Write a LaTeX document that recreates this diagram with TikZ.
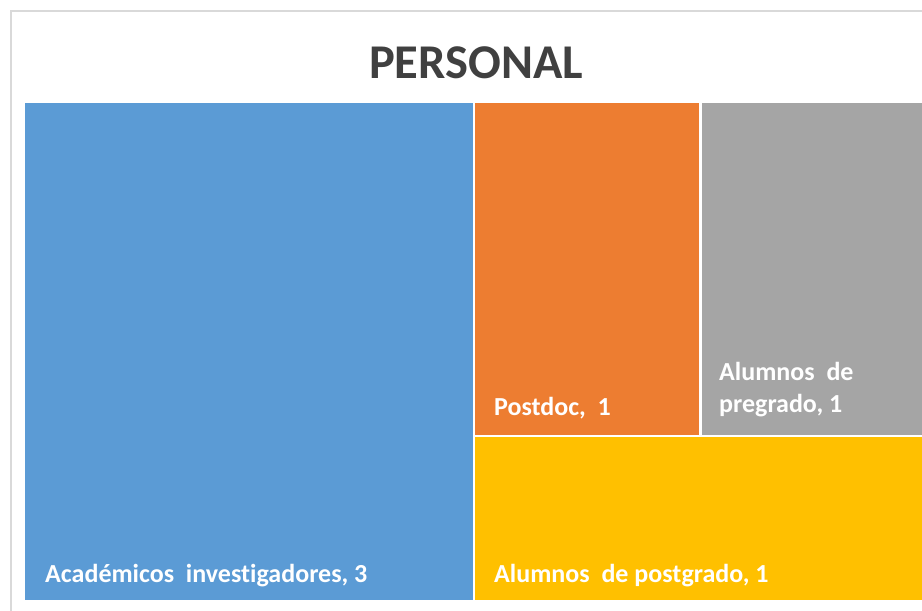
\documentclass[tikz,border=0pt]{standalone}
\usepackage{fontspec}
\setmainfont{Carlito}[Ligatures=NoCommon]
\usetikzlibrary{positioning}
\definecolor{tileblue}{HTML}{5B9BD5}
\definecolor{tileorange}{HTML}{ED7D31}
\definecolor{tilegray}{HTML}{A5A5A5}
\definecolor{tileyellow}{HTML}{FFC000}
\definecolor{titlegray}{HTML}{404040}
\definecolor{framegray}{HTML}{D9D9D9}
\tikzset{
  tile/.style={anchor=north west,inner sep=0pt,outer sep=0pt},
  tilelabel/.style={anchor=base west,inner sep=0pt,text=white,font=\bfseries\fontsize{26}{32}\selectfont,align=left}
}

\begin{document}
\begin{tikzpicture}[x=1pt,y=-1pt]
\useasboundingbox (0,0) rectangle (922,611);
\draw[framegray,line width=2pt] (11,611) -- (11,11) -- (922,11);
\node[text=titlegray,font=\bfseries\fontsize{48.5}{54}\selectfont,anchor=base] (title) at (476,78) {PERSONAL};
% tiles
\node[tile,fill=tileblue,minimum width=448pt,minimum height=497pt] (aca) at (25,103) {};
\node[tile,fill=tileorange,minimum width=224pt,minimum height=332pt] (post) at (475,103) {};
\node[tile,fill=tilegray,minimum width=220pt,minimum height=332pt] (pre) at (702,103) {};
\node[tile,fill=tileyellow,minimum width=447pt,minimum height=163pt] (grad) at (475,437) {};
% labels
\node[tilelabel] (acalabel) at (45,582) {Académicos\ \ investigadores,\ 3};
\node[tilelabel] (postlabel) at (494,415) {Postdoc,\ \ 1};
\node[tilelabel] (prelabel) at (719,412) {Alumnos\ \ de\\pregrado,\ 1};
\node[tilelabel] (gradlabel) at (494,582) {Alumnos\ \ de\ postgrado,\ 1};
\end{tikzpicture}
\end{document}
